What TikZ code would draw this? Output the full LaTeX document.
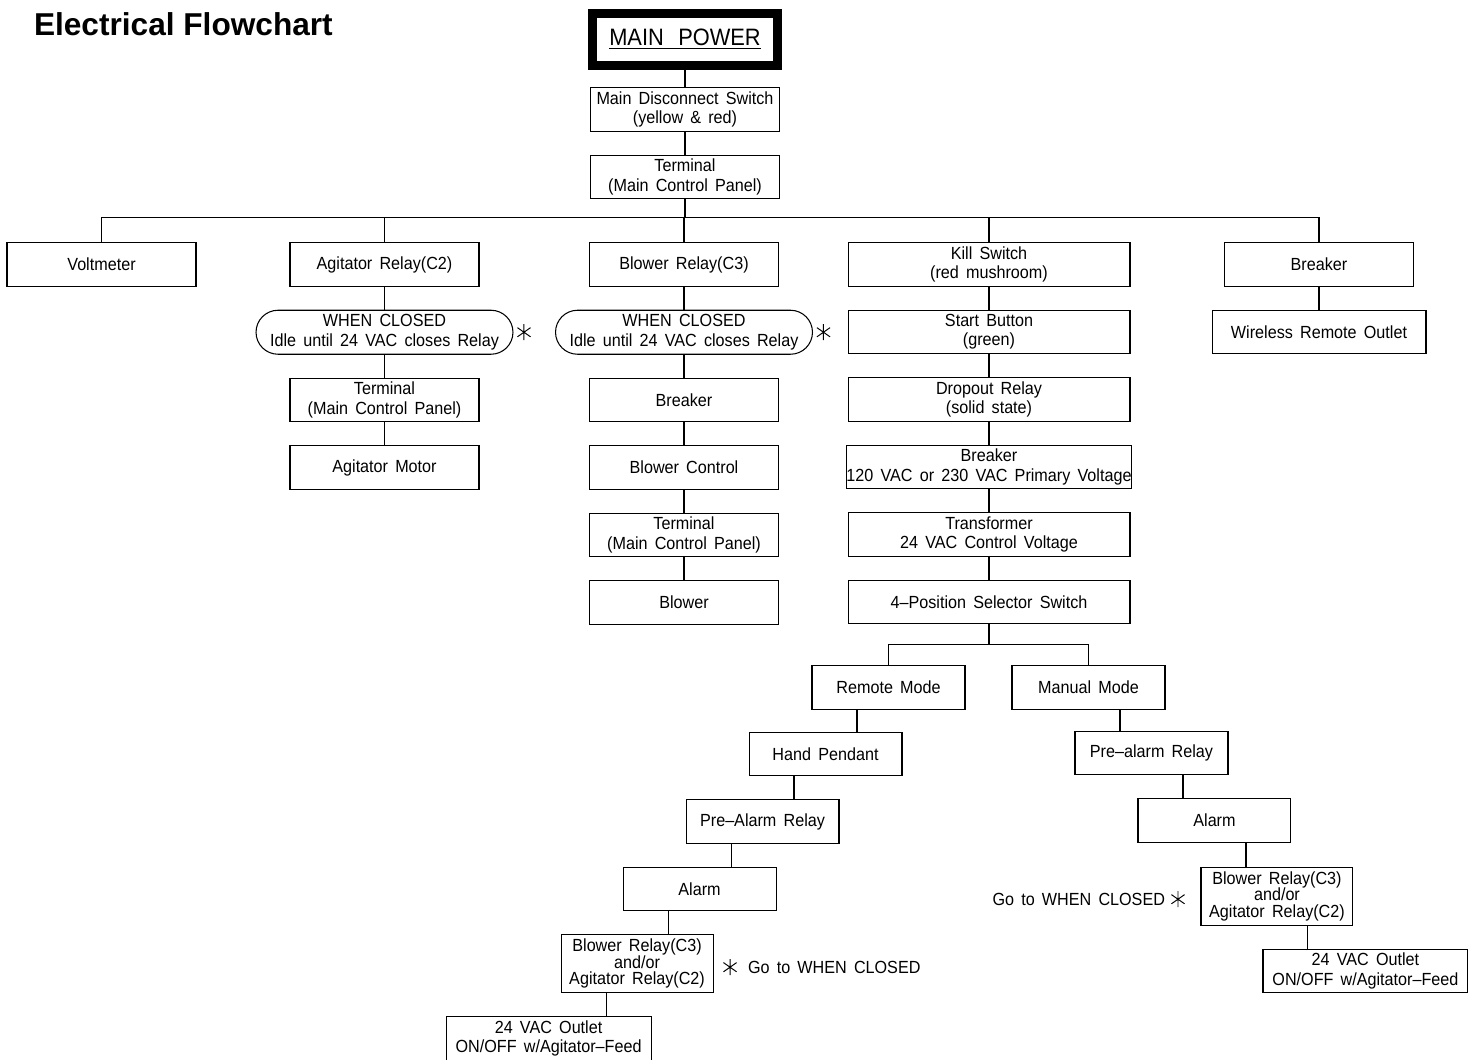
\documentclass[tikz,border=0pt]{standalone}
\usepackage{fontspec}
\setmainfont{Liberation Sans}[FakeStretch=0.92,WordSpace=1.6]
\newfontfamily\titlefont{Liberation Sans}
\usepackage{tikz}
\usetikzlibrary{positioning}

\begin{document}
\begin{tikzpicture}[x=0.02cm,y=-0.02cm,line width=0.6pt,node distance=0.48cm,
every node/.style={font=\fontsize{10}{11}\selectfont,align=center,inner sep=0pt,outer sep=0pt},
box/.style={draw,minimum width=3.78cm,minimum height=0.87cm},
wide/.style={box,minimum width=5.64cm},
mode/.style={box,minimum width=3.06cm},
relay/.style={box,minimum width=3.04cm,minimum height=1.16cm,font=\fontsize{10}{9.5}\selectfont},
outlet/.style={box,minimum width=4.1cm},
closed/.style={draw,rounded corners=0.44cm,minimum width=5.14cm,minimum height=0.88cm},
astmark/.pic={\draw[line width=0.55pt] (90:8)--(270:8) (35:8)--(215:8) (145:8)--(325:8);}]
\useasboundingbox (0,0) rectangle (1478,1059);

\node[font=\titlefont\bfseries\fontsize{18}{20}\selectfont,anchor=base west] (title) at (34,35) {Electrical Flowchart};
\node[draw,line width=0.18cm,minimum width=3.71cm,minimum height=1.04cm,font=\fontsize{13.5}{15}\selectfont] (mp) at (685,39.5) {\underline{MAIN\ \hspace{0.2em}POWER}};
\node[box] (mds) at (685,109.5) {Main Disconnect Switch\\(yellow \& red)};
\node[box,below=of mds] (tmain) {Terminal\\(Main Control Panel)};

\node[box] (volt) at (101.5,264.5) {Voltmeter};
\node[box] (agr) at (384.5,264.5) {Agitator Relay(C2)};
\node[box] (blr) at (684,264.5) {Blower Relay(C3)};
\node[wide] (kill) at (989,264.5) {Kill Switch\\(red mushroom)};
\node[box] (brk) at (1319,264.5) {Breaker};

\node[closed,below=of agr] (wc1) {WHEN CLOSED\\Idle until 24 VAC closes Relay};
\node[box,below=of wc1] (tag) {Terminal\\(Main Control Panel)};
\node[box,below=of tag] (amot) {Agitator Motor};

\node[closed,below=of blr] (wc2) {WHEN CLOSED\\Idle until 24 VAC closes Relay};
\node[box,below=of wc2] (bbrk) {Breaker};
\node[box,below=of bbrk] (bctl) {Blower Control};
\node[box,below=of bctl] (bterm) {Terminal\\(Main Control Panel)};
\node[box,below=of bterm] (blow) {Blower};

\node[wide,below=of kill] (start) {Start Button\\(green)};
\node[wide,below=of start] (drop) {Dropout Relay\\(solid state)};
\node[wide,below=of drop] (kbrk) {Breaker\\120 VAC or 230 VAC Primary Voltage};
\node[wide,below=of kbrk] (xfmr) {Transformer\\24 VAC Control Voltage};
\node[wide,below=of xfmr] (sel) {4--Position Selector Switch};

\node[box,minimum width=4.28cm,below=of brk] (wro) {Wireless Remote Outlet};

\node[mode] (rem) at (888.5,687.5) {Remote Mode};
\node[mode] (man) at (1088.5,687.5) {Manual Mode};

\node[mode,below left=0.46cm and -1.8cm of rem] (hp) {Hand Pendant};
\node[mode,below left=0.48cm and -1.8cm of hp] (par) {Pre--Alarm Relay};
\node[mode,below left=0.48cm and -1.8cm of par] (al1) {Alarm};
\node[relay,below left=0.48cm and -1.8cm of al1] (brr1) {Blower Relay(C3)\\and/or\\Agitator Relay(C2)};
\node[outlet,below left=0.48cm and -1.8cm of brr1] (out1) {24 VAC Outlet\\ON/OFF w/Agitator--Feed};

\node[mode,below right=0.44cm and -1.8cm of man] (pa2) {Pre--alarm Relay};
\node[mode,below right=0.48cm and -1.8cm of pa2] (al2) {Alarm};
\node[relay,below right=0.5cm and -1.8cm of al2] (brr2) {Blower Relay(C3)\\and/or\\Agitator Relay(C2)};
\node[outlet,below right=0.48cm and -1.8cm of brr2] (out2) {24 VAC Outlet\\ON/OFF w/Agitator--Feed};

\node[right=0.7cm of brr1,yshift=-0.07cm] (note1) {Go to WHEN CLOSED};
\node[left=0.72cm of brr2,yshift=-0.06cm] (note2) {Go to WHEN CLOSED};
\pic at ([xshift=0.22cm]wc1.east) {astmark};
\pic at ([xshift=0.22cm]wc2.east) {astmark};
\pic at ([xshift=-0.36cm]note1.west) {astmark};
\pic at ([xshift=0.26cm]note2.east) {astmark};

\draw (mp.south) -- (mds.north);
\draw (mds) -- (tmain);
\draw (tmain.south) -- ++(0,19) coordinate (bus);
\draw (volt.north) |- (bus) -| (brk.north);
\foreach \n in {agr,blr,kill} \draw (\n.north) -- (\n.north |- bus);
\draw (agr) -- (wc1) -- (tag) -- (amot);
\draw (blr) -- (wc2) -- (bbrk) -- (bctl) -- (bterm) -- (blow);
\draw (kill) -- (start) -- (drop) -- (kbrk) -- (xfmr) -- (sel);
\draw (brk) -- (wro);
\draw (sel.south) -- ++(0,21) coordinate (split);
\draw (rem.north) |- (split) -| (man.north);
\foreach \a/\b in {rem/hp,hp/par,par/al1,al1/brr1,brr1/out1}
  \draw ([xshift=0.9cm]\a.south west) -- ([xshift=0.9cm]\a.south west |- \b.north);
\foreach \a/\b in {man/pa2,pa2/al2,al2/brr2,brr2/out2}
  \draw ([xshift=-0.9cm]\a.south east) -- ([xshift=-0.9cm]\a.south east |- \b.north);
\end{tikzpicture}
\end{document}
